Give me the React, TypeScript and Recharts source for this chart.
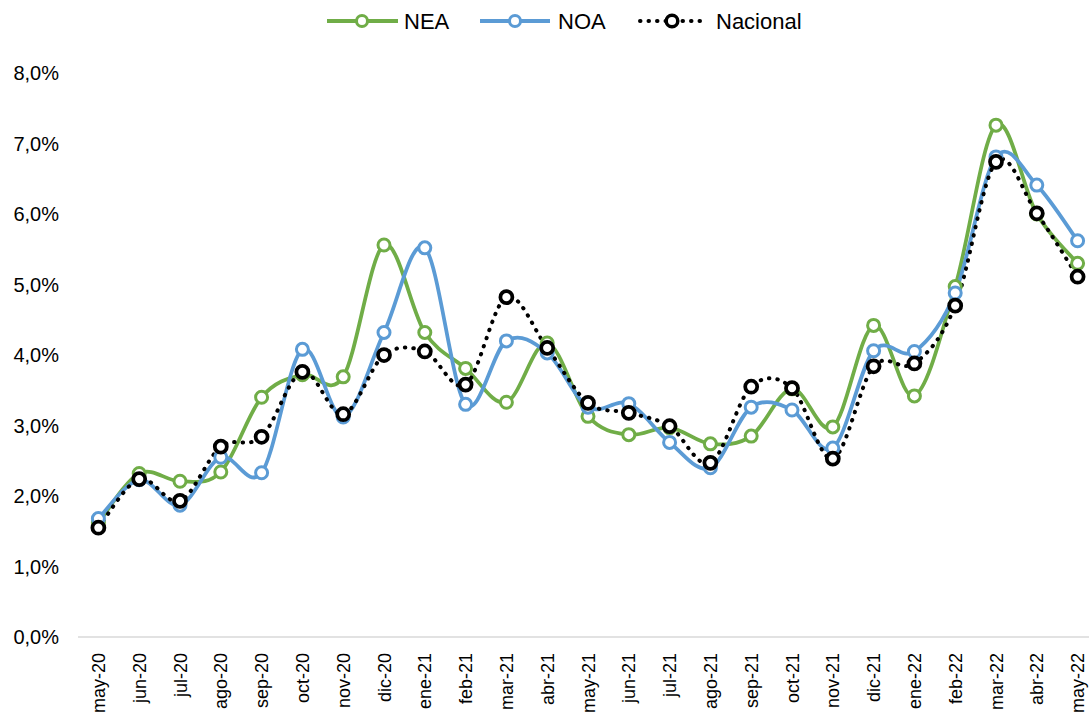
import React from 'react';
import { LineChart, Line, XAxis, YAxis } from 'recharts';

const months = [
    'may-20', 'jun-20', 'jul-20', 'ago-20', 'sep-20', 'oct-20', 'nov-20', 'dic-20',
    'ene-21', 'feb-21', 'mar-21', 'abr-21', 'may-21', 'jun-21', 'jul-21', 'ago-21',
    'sep-21', 'oct-21', 'nov-21', 'dic-21', 'ene-22', 'feb-22', 'mar-22', 'abr-22', 'may-22'
];
const nea = [1.62, 2.32, 2.21, 2.34, 3.40, 3.72, 3.69, 5.56, 4.32, 3.81, 3.33, 4.17, 3.13, 2.87, 2.97, 2.74, 2.85, 3.52, 2.98, 4.42, 3.42, 4.97, 7.26, 6.00, 5.30];
const noa = [1.68, 2.23, 1.87, 2.55, 2.33, 4.08, 3.12, 4.32, 5.52, 3.30, 4.20, 4.03, 3.26, 3.31, 2.76, 2.40, 3.26, 3.22, 2.68, 4.06, 4.05, 4.88, 6.81, 6.41, 5.62];
const nacional = [1.55, 2.24, 1.93, 2.70, 2.84, 3.76, 3.16, 4.00, 4.05, 3.58, 4.82, 4.10, 3.32, 3.18, 2.99, 2.47, 3.55, 3.53, 2.53, 3.84, 3.88, 4.70, 6.74, 6.01, 5.11];
const yTicks = [0, 1, 2, 3, 4, 5, 6, 7, 8];

const GREEN = '#70AD47';
const BLUE = '#5B9BD5';
const FONT = '"Liberation Sans", Arial, sans-serif';

const data = months.map((m, i) => ({ month: m, nea: nea[i], noa: noa[i], nacional: nacional[i] }));

// Excel-like smoothed line (Catmull-Rom as cubic bezier)
const excelCurve = (context: any) => {
    let pts: number[][] = [];
    return {
        areaStart() {},
        areaEnd() {},
        lineStart() { pts = []; },
        point(x: number, y: number) { pts.push([+x, +y]); },
        lineEnd() {
            if (!pts.length) return;
            context.moveTo(pts[0][0], pts[0][1]);
            for (let i = 0; i < pts.length - 1; i++) {
                const p0 = pts[i - 1] || pts[i];
                const p1 = pts[i];
                const p2 = pts[i + 1];
                const p3 = pts[i + 2] || p2;
                context.bezierCurveTo(
                    p1[0] + (p2[0] - p0[0]) / 6, p1[1] + (p2[1] - p0[1]) / 6,
                    p2[0] - (p3[0] - p1[0]) / 6, p2[1] - (p3[1] - p1[1]) / 6,
                    p2[0], p2[1]
                );
            }
        }
    };
};

const YTick = ({ y, payload }: any) => (
    <text x={59} y={y} dy={7} textAnchor="end" fontSize={20} fill="#000" fontFamily={FONT}>
        {payload.value.toFixed(1).replace('.', ',') + '%'}
    </text>
);

const XTick = ({ x, payload }: any) => (
    <text
        transform={`translate(${x + 6.5}, 653) rotate(-90)`}
        textAnchor="end"
        fontSize={18}
        fill="#000"
        fontFamily={FONT}
    >
        {payload.value}
    </text>
);

const LegendBar = () => (
    <svg width={1089} height={45} style={{ position: 'absolute', left: 0, top: 0 }}>
        <line x1={327} y1={21} x2={398} y2={21} stroke={GREEN} strokeWidth={4} />
        <circle cx={362} cy={21} r={5.5} fill="#fff" stroke={GREEN} strokeWidth={3} />
        <text x={404} y={29} fontSize={22} fontFamily={FONT}>NEA</text>
        <line x1={480} y1={21} x2={550} y2={21} stroke={BLUE} strokeWidth={4} />
        <circle cx={515} cy={21} r={5.5} fill="#fff" stroke={BLUE} strokeWidth={3} />
        <text x={558} y={29} fontSize={22} fontFamily={FONT}>NOA</text>
        <line x1={640} y1={21} x2={700} y2={21} stroke="#000" strokeWidth={4} strokeDasharray="0.5 8" strokeLinecap="round" />
        <circle cx={672} cy={21} r={5.8} fill="#fff" stroke="#000" strokeWidth={3.5} />
        <text x={716} y={29} fontSize={22} fontFamily={FONT}>Nacional</text>
    </svg>
);

export default function App() {
    return (
        <div style={{ position: 'absolute', left: 0, top: 0, width: 1089, height: 722, overflow: 'hidden', background: '#fff' }}>
            <LineChart width={1100} height={722} data={data} margin={{ top: 73, right: 2, left: 0, bottom: 0 }}>
                <XAxis
                    dataKey="month"
                    scale="band"
                    height={85}
                    interval={0}
                    tick={<XTick />}
                    tickLine={false}
                    axisLine={{ stroke: '#D9D9D9', strokeWidth: 1.5 }}
                />
                <YAxis
                    width={78}
                    domain={[0, 8]}
                    ticks={yTicks}
                    tick={<YTick />}
                    axisLine={false}
                    tickLine={false}
                />
                <Line
                    dataKey="nea"
                    type={excelCurve as any}
                    stroke={GREEN}
                    strokeWidth={3.75}
                    dot={{ r: 6, fill: '#fff', stroke: GREEN, strokeWidth: 3 }}
                    isAnimationActive={false}
                />
                <Line
                    dataKey="noa"
                    type={excelCurve as any}
                    stroke={BLUE}
                    strokeWidth={3.75}
                    dot={{ r: 6, fill: '#fff', stroke: BLUE, strokeWidth: 3 }}
                    isAnimationActive={false}
                />
                <Line
                    dataKey="nacional"
                    type={excelCurve as any}
                    stroke="#000"
                    strokeWidth={4}
                    strokeDasharray="0.5 8"
                    strokeLinecap="round"
                    dot={{ r: 6, fill: '#fff', stroke: '#000', strokeWidth: 3.75, strokeDasharray: 'none' }}
                    isAnimationActive={false}
                />
            </LineChart>
            <LegendBar />
        </div>
    );
}
